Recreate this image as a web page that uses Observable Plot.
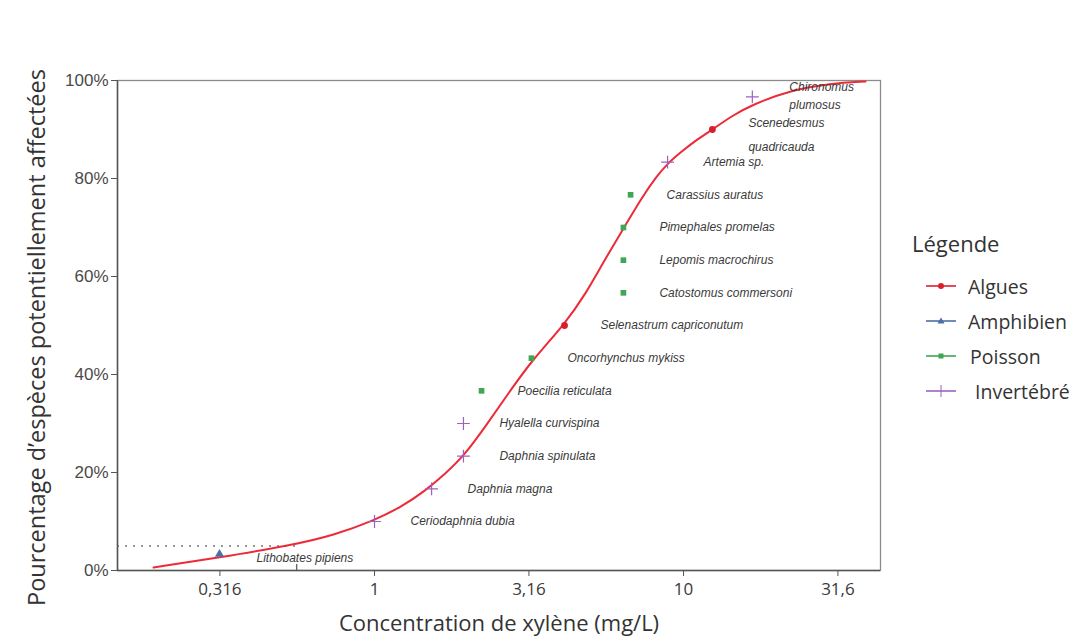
<!DOCTYPE html>
<html><head><meta charset="utf-8">
<script src="https://cdn.jsdelivr.net/npm/d3@7"></script>
<script src="https://cdn.jsdelivr.net/npm/@observablehq/plot@0.6"></script>
<style>
body{margin:0;background:#fff;}
#wrap{position:relative;width:1073px;height:638px;overflow:hidden;}
#wrap svg{position:absolute;left:0;top:0;}
g[aria-label="y-axis tick label"] text{font-family:"Liberation Sans",Arial,sans-serif;font-size:17px;fill:#4a4a4a;}
g[aria-label="x-axis tick label"] text{font-family:"Open Sans",sans-serif;font-size:17px;fill:#3a3a3a;}
#legend{position:absolute;left:912px;top:226px;font-family:"Open Sans",sans-serif;color:#333;}
#legend .title{font-size:22px;line-height:34px;margin-bottom:10px;}
#legend .item{position:relative;height:35px;}
#legend .item svg{position:absolute;left:6px;top:0;}
#legend .item span{position:absolute;top:3px;font-size:19.5px;white-space:nowrap;}
</style></head><body><div id="wrap"></div>
<script>
// Species sensitivity data
const species = ["Lithobates pipiens","Ceriodaphnia dubia","Daphnia magna","Daphnia spinulata","Hyalella curvispina","Poecilia reticulata","Oncorhynchus mykiss","Selenastrum capriconutum","Catostomus commersoni","Lepomis macrochirus","Pimephales promelas","Carassius auratus","Artemia sp.","Scenedesmus\nquadricauda","Chironomus\nplumosus"];
const concentration = [0.315, 1.0, 1.53, 1.94, 1.94, 2.22, 3.22, 4.12, 6.39, 6.39, 6.39, 6.74, 8.88, 12.4, 16.7];
const percent = [3.33, 10, 16.67, 23.33, 30, 36.67, 43.33, 50, 56.67, 63.33, 70, 76.67, 83.33, 90, 96.67];
const group = ["Amphibien","Invertébré","Invertébré","Invertébré","Invertébré","Poisson","Poisson","Algues","Poisson","Poisson","Poisson","Poisson","Invertébré","Algues","Invertébré"];

// Fitted distribution curve
const curveConc = [0.1927, 0.3127, 0.5348, 0.7400, 0.9926, 1.214, 1.462, 1.697, 1.941, 2.287, 2.694, 3.246, 4.12, 4.85, 5.469, 6.394, 7.366, 8.177, 8.877, 9.779, 10.94, 12.41, 14.41, 16.73, 22.20, 29.91, 38.81];
const curvePct  = [0.61, 2.65, 5.10, 7.2, 10.2, 12.86, 16.3, 19.8, 23.3, 29.39, 35.92, 43.06, 50.2, 56.7, 62.65, 69.80, 76.33, 80.41, 83.06, 85.31, 87.76, 90.0, 92.86, 95.1, 98.0, 99.4, 99.8];

// HC5
const hc5Conc = 0.56;
const hc5Pct = 5;

// Axes
const xTicks = [0.316, 1, 3.16, 10, 31.6];
const xTickLabels = ["0,316", "1", "3,16", "10", "31,6"];
const yTicks = [0, 20, 40, 60, 80, 100];
const xDomain = [0.1473, 43.4];

const groups = ["Algues", "Amphibien", "Poisson", "Invertébré"];
const groupColors = ["#d8202c", "#4a70a6", "#3fa653", "#9c62c2"];
const groupSymbols = ["circle", "triangle", "square", "plus"];

const xLabel = "Concentration de xylène (mg/L)";
const yLabel = "Pourcentage d’espèces potentiellement affectées";

const points = species.map((s, i) => ({species: s, x: concentration[i], y: percent[i], group: group[i]}));
const curve = curveConc.map((c, i) => ({x: c, y: curvePct[i]}));

const dotMarks = groups.map((g, gi) => {
  const data = points.filter(p => p.group === g);
  const sym = groupSymbols[gi];
  if (sym === "plus") return Plot.dot(data, {x: "x", y: "y", symbol: "plus", r: 4.2, stroke: groupColors[gi], strokeWidth: 1.2, fill: "none"});
  return Plot.dot(data, {x: "x", y: "y", symbol: sym, r: sym === "square" ? 3.2 : 3.4, fill: groupColors[gi], stroke: "none"});
});

const special = ["Lithobates pipiens", "Scenedesmus\nquadricauda", "Chironomus\nplumosus"];
const mainLabels = points.filter(d => !special.includes(d.species));
const lithoLabel = points.filter(d => d.species === special[0]);
const sceneLabel = points.filter(d => d.species === special[1]);
const chiroLabel = points.filter(d => d.species === special[2]);
const labelStyle = {textAnchor: "start", fontStyle: "italic", fontSize: 12, fontFamily: "Liberation Sans, Arial, sans-serif", fill: "#3a3a3a"};

const chart = Plot.plot({
  width: 1073,
  height: 638,
  marginLeft: 117,
  marginRight: 193,
  marginTop: 80,
  marginBottom: 68,
  style: {background: "transparent"},
  x: {type: "log", domain: xDomain},
  y: {domain: [0, 100]},
  marks: [
    Plot.frame({stroke: "#8c8c8c", strokeWidth: 1.3}),
    Plot.ruleY([{y: hc5Pct, x1: xDomain[0], x2: hc5Conc}], {y: "y", x1: "x1", x2: "x2", stroke: "#333", strokeWidth: 1.2, strokeDasharray: "2,6"}),
    Plot.ruleX([{x: hc5Conc}], {x: "x", y1: 0, y2: 1.2, stroke: "#555", strokeWidth: 1.2}),
    Plot.ruleY([0], {stroke: "#555", strokeWidth: 1.5}),
    Plot.ruleX([xDomain[0]], {stroke: "#555", strokeWidth: 1.5}),
    Plot.line(curve, {x: "x", y: "y", stroke: "#ec2a38", strokeWidth: 2, curve: "basis"}),
    ...dotMarks,
    Plot.text(mainLabels, {x: "x", y: "y", text: "species", dx: 36, ...labelStyle}),
    Plot.text(lithoLabel, {x: "x", y: "y", text: "species", dx: 37, dy: 4, ...labelStyle}),
    Plot.text(sceneLabel, {x: "x", y: "y", text: "species", dx: 36, dy: 2, lineHeight: 2, ...labelStyle}),
    Plot.text(chiroLabel, {x: "x", y: "y", text: "species", dx: 37, dy: -3, lineHeight: 1.5, ...labelStyle}),
    Plot.axisX({ticks: xTicks, tickFormat: d => xTickLabels[xTicks.indexOf(d)], tickSize: 6, tickPadding: 6, label: null, stroke: "#555"}),
    Plot.axisY({ticks: yTicks, tickFormat: d => d + "%", tickSize: 6, tickPadding: 3, label: null, stroke: "#555"}),
    Plot.text([xLabel], {frameAnchor: "bottom", dy: 53, fontSize: 22, fontFamily: "Open Sans, sans-serif", fill: "#333", textAnchor: "middle", lineAnchor: "middle"}),
    Plot.text([yLabel], {frameAnchor: "left", dx: -80, dy: 12, rotate: -90, fontSize: 23.5, fontFamily: "Open Sans, sans-serif", fill: "#333", textAnchor: "middle", lineAnchor: "middle"})
  ]
});

const wrap = document.getElementById("wrap");
wrap.appendChild(chart);

// Legend
const legend = document.createElement("div");
legend.id = "legend";
let html = '<div class="title">Légende</div>';
const labelLeft = [56, 56, 58, 63];
groups.forEach((g, i) => {
  const c = groupColors[i];
  let m = "";
  if (groupSymbols[i] === "circle") m = `<circle cx="23" cy="16" r="3" fill="${c}"/>`;
  if (groupSymbols[i] === "triangle") m = `<path d="M23,12.5 L26.5,18.5 L19.5,18.5 Z" fill="${c}"/>`;
  if (groupSymbols[i] === "square") m = `<rect x="20.5" y="13.5" width="5" height="5" fill="${c}"/>`;
  if (groupSymbols[i] === "plus") m = `<path d="M23,10 V22" stroke="${c}" stroke-width="1"/>`;
  html += `<div class="item"><svg width="40" height="32"><line x1="8" x2="38" y1="16" y2="16" stroke="${c}" stroke-width="1.6"/>${m}</svg><span style="left:${labelLeft[i]}px">${g}</span></div>`;
});
legend.innerHTML = html;
wrap.appendChild(legend);
</script>
</body></html>
